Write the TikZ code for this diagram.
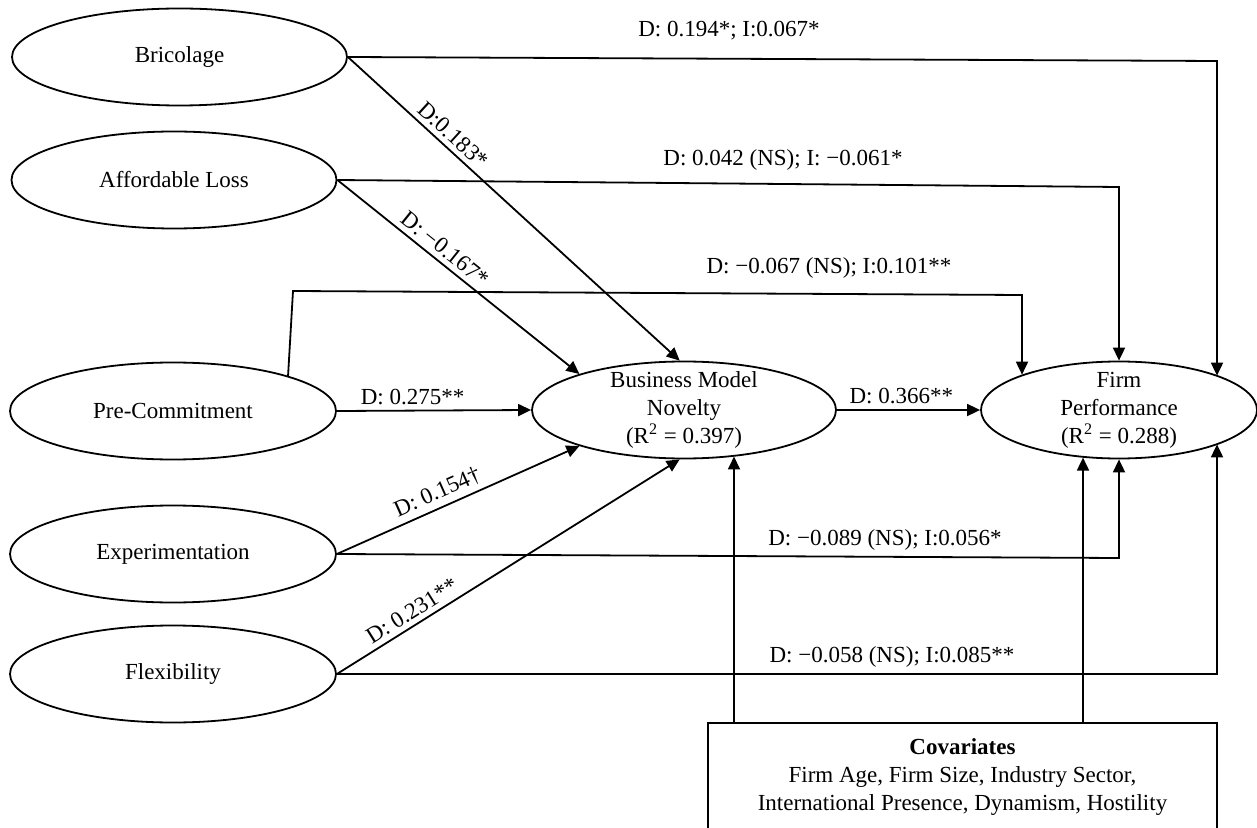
\documentclass[tikz,border=0pt]{standalone}
\usepackage{fontspec}
\setmainfont{Liberation Serif}
\usetikzlibrary{shapes.geometric, arrows.meta}

\begin{document}
\begin{tikzpicture}[x=0.5pt, y=-0.5pt,
    font=\fontsize{11.5}{14}\selectfont,
    latent/.style={ellipse, draw, line width=0.9pt, inner xsep=2pt, inner ysep=-4pt, minimum height=48.5pt, align=center},
    arrow/.style={-{Triangle[length=6.5pt, width=6pt]}, line width=0.9pt},
    coef/.style={inner sep=2.5pt}]
    \useasboundingbox (0,0) rectangle (1257,828);
    \clip (0,0) rectangle (1257,828);

    \node[latent, minimum width=167.5pt] (bric) at (179.5,57) {Bricolage};
    \node[latent, minimum width=162.5pt] (afl) at (174,180) {Affordable Loss};
    \node[latent, minimum width=163pt] (pc) at (173,411) {Pre-Commitment};
    \node[latent, minimum width=163pt] (exper) at (173,554) {Experimentation};
    \node[latent, minimum width=163pt] (flex) at (173,674) {Flexibility};
    \node[latent, minimum width=152pt] (bmn) at (684,410) {Business Model\\Novelty\\(R\textsuperscript{2} = 0.397)};
    \node[latent, minimum width=138pt] (fp) at (1119,410) {Firm\\Performance\\(R\textsuperscript{2} = 0.288)};
    \node[draw, line width=0.9pt, minimum width=254.5pt, minimum height=54pt, align=center] (cov) at (962.5,777)
        {\textbf{Covariates}\\Firm Age, Firm Size, Industry Sector,\\International Presence, Dynamism, Hostility};

    \coordinate (bricTurn) at (1217,61);
    \coordinate (aflTurn) at (1119,187);
    \coordinate (pcUp) at (293,291);
    \coordinate (pcTurn) at (1022,295);
    \coordinate (experTurn) at (1119,558);
    \coordinate (flexTurn) at (1217,674);
    \coordinate (covBmn) at (734,723);
    \coordinate (covFp) at (1083,723);

    \draw[arrow] (bric.east) -- node[coef, sloped, above, pos=0.29] {D:0.183*} (bmn.95);
    \draw[arrow] (afl.east) -- node[coef, sloped, above, pos=0.41] {D: −0.167*} (bmn.161);
    \draw[arrow] (pc.east) -- node[coef, above, pos=0.39] {D: 0.275**} (bmn.west);
    \draw[arrow] (exper.east) -- node[coef, sloped, above, pos=0.44] {D: 0.154†} (bmn.199);
    \draw[arrow] (flex.east) -- node[coef, sloped, above, pos=0.24] {D: 0.231**} (bmn.265);
    \draw[arrow] (bmn.east) -- node[coef, above, pos=0.45] {D: 0.366**} (fp.west);

    \draw[arrow] (bric.east) -- (bricTurn) -- (bricTurn |- fp.19);
    \draw[arrow] (afl.east) -- (aflTurn) -- (fp.north);
    \draw[arrow] (pc.17.5) -- (pcUp) -- (pcTurn) -- (pcTurn |- fp.160);
    \draw[arrow] (exper.east) -- (experTurn) -- (fp.south);
    \draw[arrow] (flex.east) -- (flexTurn) -- (flexTurn |- fp.-19);
    \draw[arrow] (covBmn) -- (covBmn |- bmn.-42);
    \draw[arrow] (covFp) -- (covFp |- fp.232);

    \node (lbBric) at (729,31) {D: 0.194*; I:0.067*};
    \node (lbAfl) at (783,160) {D: 0.042 (NS); I: −0.061*};
    \node (lbPc) at (829,268) {D: −0.067 (NS); I:0.101**};
    \node (lbExper) at (885,540) {D: −0.089 (NS); I:0.056*};
    \node (lbFlex) at (892,657) {D: −0.058 (NS); I:0.085**};
\end{tikzpicture}
\end{document}
